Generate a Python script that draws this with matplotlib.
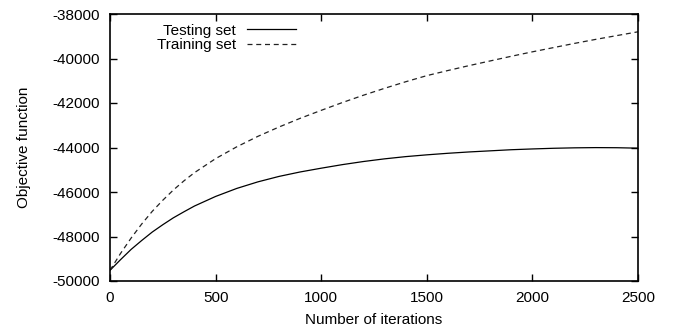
import matplotlib
matplotlib.use('Agg')
import matplotlib.pyplot as plt

plt.rcParams['font.family'] = ['Liberation Sans', 'DejaVu Sans']
plt.rcParams['font.size'] = 11
plt.rcParams['axes.unicode_minus'] = False

# values
iterations = [0, 50, 100, 150, 200, 250, 300, 350, 400, 500, 600, 700, 800, 900,
              1000, 1100, 1200, 1300, 1400, 1500, 1600, 1700, 1800, 1900, 2000,
              2100, 2200, 2300, 2400, 2500]
testing = [-49520, -49040, -48580, -48180, -47800, -47470, -47160, -46890, -46630,
           -46200, -45840, -45545, -45300, -45100, -44930, -44770, -44630, -44510,
           -44410, -44330, -44260, -44200, -44150, -44100, -44065, -44035, -44015,
           -44005, -44010, -44030]
training = [-49520, -48760, -48070, -47440, -46870, -46370, -45910, -45500, -45130,
            -44500, -43970, -43500, -43080, -42690, -42330, -41980, -41650, -41340,
            -41045, -40770, -40540, -40320, -40110, -39900, -39700, -39510, -39320,
            -39140, -38970, -38800]

fig = plt.figure(figsize=(6.86, 3.33), dpi=100)
ax = fig.add_axes([110 / 686, 1 - 281 / 333, 528 / 686, 267 / 333])

ax.plot(iterations, testing, color='black', lw=0.9, label='Testing set')
ax.plot(iterations, training, color='#222222', lw=0.9, ls=(0, (4, 3)), label='Training set')

ax.set_xlim(0, 2500)
ax.set_ylim(-50000, -38000)
ax.set_xticks(range(0, 2501, 500))
ax.set_yticks(range(-50000, -37999, 2000))
ax.tick_params(direction='in', length=5, width=1, top=True, right=True, pad=7)
for s in ax.spines.values():
    s.set_linewidth(1.2)

ax.set_xlabel('Number of iterations', labelpad=6)
ax.set_ylabel('Objective function', labelpad=16)

ax.legend(loc='upper right', bbox_to_anchor=(0.375, 1.01), frameon=False,
          markerfirst=False, handlelength=3.2, handletextpad=0.7,
          labelspacing=0.05, borderpad=0.3)

fig.savefig('out.png', dpi=100)
